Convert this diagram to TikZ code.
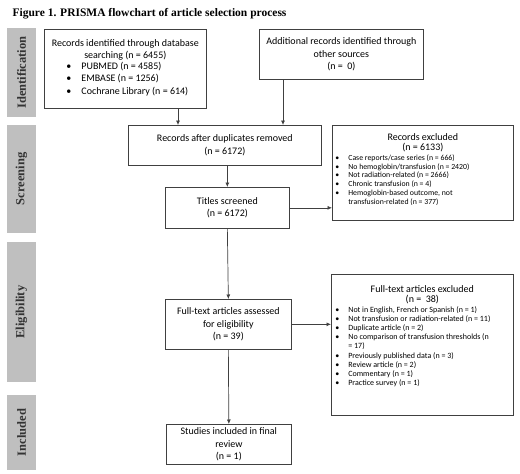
\documentclass[tikz,border=0pt]{standalone}
\usepackage{fontspec}
\setmainfont{Carlito}
\newfontfamily\serifb{Liberation Serif}
\usetikzlibrary{arrows.meta}
\begin{document}
\begin{tikzpicture}[x=1pt,y=-1pt,
 box/.style={draw=black!75, line width=0.7pt, anchor=north west, inner sep=0pt, align=center,
   font=\fontsize{10}{12.5}\selectfont},
 phase/.style={fill=black!25, inner sep=0pt, rotate=90, minimum height=29pt,
   font=\serifb\bfseries\fontsize{12.5}{15}\selectfont, text=black!80},
 arr/.style={draw=black!75, line width=0.7pt, -{Latex[length=4.5pt,width=4pt]}}
]
\useasboundingbox (0,0) rectangle (520,474);
\fill[white] (0,0) rectangle (520,474);

\node[anchor=west, font=\serifb\bfseries\fontsize{11.5}{13}\selectfont] (title) at (9,14)
  {Figure 1. PRISMA flowchart of article selection process};

% phase bars
\node[phase, minimum width=89pt] (pid) at (21.5,72.5) {Identification};
\node[phase, minimum width=108pt] (psc) at (21.5,179) {Screening};
\node[phase, minimum width=140pt] (pel) at (21.5,312) {Eligibility};
\node[phase, minimum width=75pt] (pin) at (21.5,432.5) {Included};

% boxes
\node[box, minimum width=162pt, minimum height=79pt] (b1) at (44,29)
 {Records identified through database\\ searching (n = 6455)\\[-1pt]
  \hspace*{4pt}\begin{tabular}{@{}p{15pt}@{}l@{}}
  \textbullet & PUBMED (n = 4585)\\
  \textbullet & EMBASE (n = 1256)\\
  \textbullet & Cochrane Library (n = 614)
  \end{tabular}};

\node[box, minimum width=164pt, minimum height=50pt] (b2) at (259,29)
 {Additional records identified through\\ other sources\\ (n =\ \ 0)};

\node[box, minimum width=193pt, minimum height=40pt] (b3) at (128,125)
 {Records after duplicates removed\\ (n = 6172)};

\node[box, minimum width=124pt, minimum height=41pt] (b4) at (165,187)
 {Titles screened\\ (n = 6172)};

\node[box] (b5) at (332,125)
 {\parbox[c][95pt][t]{181pt}{\vspace*{8pt}\centering\fontsize{10}{10.5}\selectfont
  Records excluded\\ (n = 6133)\par\vspace{1pt}\raggedright\fontsize{7.8}{8.8}\selectfont
  \hspace*{3pt}\begin{tabular}{@{}p{13pt}@{}l@{}}
  \textbullet & Case reports/case series (n = 666)\\
  \textbullet & No hemoglobin/transfusion (n = 2420)\\
  \textbullet & Not radiation-related (n = 2666)\\
  \textbullet & Chronic transfusion (n = 4)\\
  \textbullet & Hemoglobin-based outcome, not\\
              & transfusion-related (n = 377)
  \end{tabular}}};

\node[box, minimum width=126pt, minimum height=50pt] (b6) at (165,299)
 {Full-text articles assessed\\ for eligibility\\ (n = 39)};

\node[box] (b7) at (331,274)
 {\parbox[c][141pt][t]{182pt}{\vspace*{11pt}\centering\fontsize{10}{10.5}\selectfont
  Full-text articles excluded\\ (n =\ \ 38)\par\vspace{1pt}\raggedright\fontsize{8}{9.1}\selectfont
  \hspace*{4pt}\begin{tabular}{@{}p{13pt}@{}l@{}}
  \textbullet & Not in English, French or Spanish (n = 1)\\
  \textbullet & Not transfusion or radiation-related (n = 11)\\
  \textbullet & Duplicate article (n = 2)\\
  \textbullet & No comparison of transfusion thresholds (n\\
              & = 17)\\
  \textbullet & Previously published data (n = 3)\\
  \textbullet & Review article (n = 2)\\
  \textbullet & Commentary (n = 1)\\
  \textbullet & Practice survey (n = 1)
  \end{tabular}}};

\node[box, minimum width=125pt, minimum height=40pt] (b8) at (166,424)
 {Studies included in final\\ review\\ (n = 1)};

% connectors
\coordinate (c1) at (178,0);
\coordinate (c2) at (283,0);
\draw[arr] (b1.south -| c1) -- (b3.north -| c1);
\draw[arr] (b2.south -| c2) -- (b3.north -| c2);
\draw[arr] (b3.south -| b4.north) -- (b4.north);
\draw[arr] (b4.east) -- (b4.east -| b5.west);
\draw[arr] (b4.south) -- (b6.north);
\draw[arr] (b6.east) -- (b6.east -| b7.west);
\draw[arr] (b6.south) -- (b8.north);
\end{tikzpicture}
\end{document}
